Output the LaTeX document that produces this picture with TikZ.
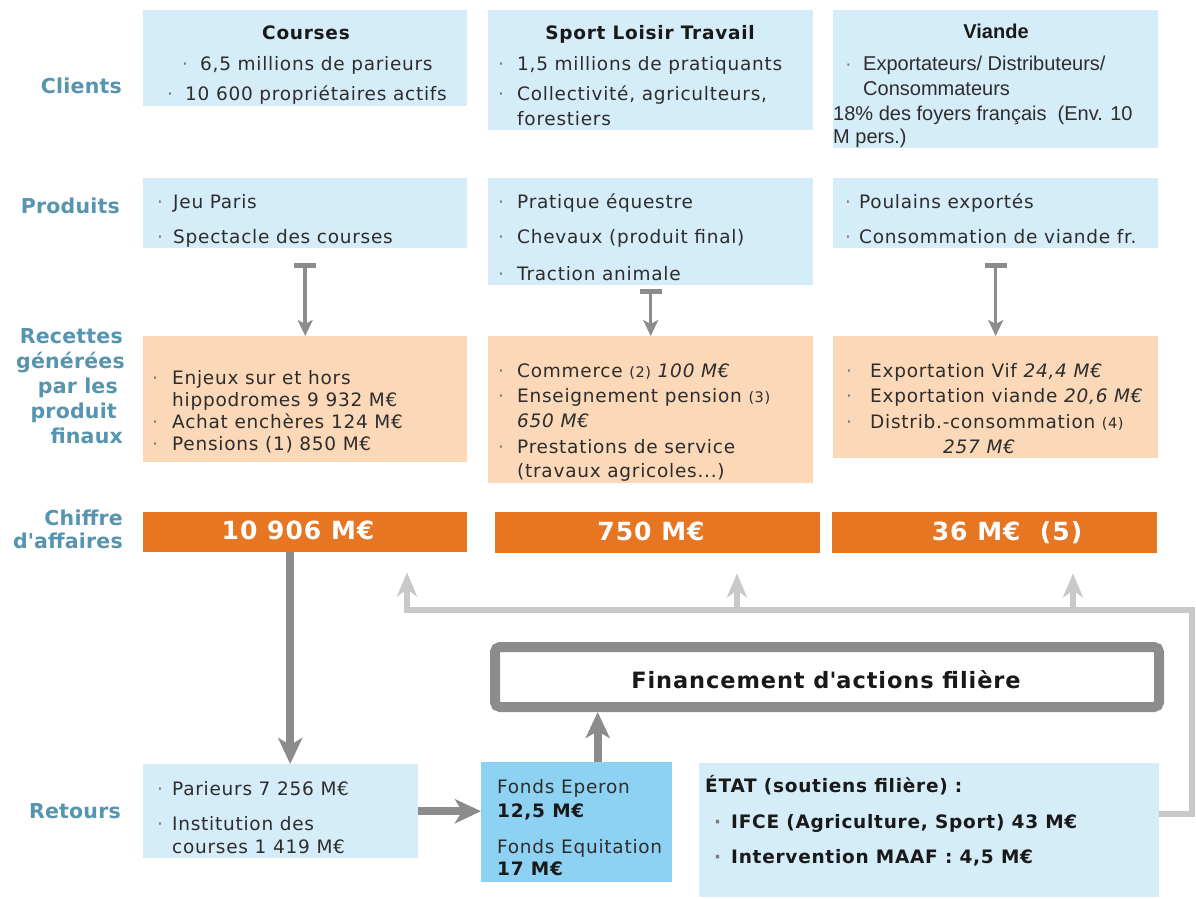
\documentclass[tikz,border=0pt]{standalone}
\usepackage{fontspec}
\setmainfont{DejaVu Sans}[LetterSpace=4]
\newfontfamily\labfont{DejaVu Sans}[LetterSpace=1]
\newfontfamily\arl{Liberation Sans}
\usetikzlibrary{arrows.meta}
\definecolor{lblue}{RGB}{213,236,249}
\definecolor{fondc}{RGB}{142,210,243}
\definecolor{peach}{RGB}{251,216,184}
\definecolor{orng}{RGB}{231,118,34}
\definecolor{labc}{RGB}{86,148,176}
\definecolor{txtc}{RGB}{45,45,45}
\definecolor{ttlc}{RGB}{25,25,25}
\definecolor{dgray}{RGB}{140,140,140}
\definecolor{lgray}{RGB}{200,200,200}
\definecolor{bulc}{RGB}{120,120,120}
\newcommand\mybul[1]{\makebox[#1pt][l]{\textcolor{bulc}{·}}}
\newcommand\smallnum{\fontsize{14.5}{16}\selectfont}
\newcommand\apos{\textquotesingle}
\tikzset{
  lab/.style={font=\labfont\fontsize{20.5}{22}\selectfont\bfseries, text=labc, anchor=base east, inner sep=0},
  tx/.style={font=\fontsize{18.5}{22}\selectfont, text=txtc, anchor=base west, inner sep=0},
  btx/.style={tx, font=\fontsize{18.5}{22}\selectfont\bfseries, text=ttlc},
  ttl/.style={font=\fontsize{18.5}{22}\selectfont\bfseries, text=ttlc, anchor=base, inner sep=0},
  artx/.style={font=\arl\fontsize{20}{24}\selectfont, text=txtc, anchor=base west, inner sep=0},
  arttl/.style={font=\arl\fontsize{20}{24}\selectfont\bfseries, text=ttlc, anchor=base, inner sep=0},
  caf/.style={font=\fontsize{25}{28}\selectfont\bfseries, text=white, anchor=base, inner sep=0},
  box/.style={draw=none, inner sep=0, anchor=north west},
  bluebox/.style={box, fill=lblue},
  fondbox/.style={box, fill=fondc},
  peachbox/.style={box, fill=peach},
  orbox/.style={box, fill=orng},
  darr/.style={draw=dgray, line width=8pt, -{Stealth[length=26pt,width=24pt,inset=7pt]}},
  lgline/.style={draw=lgray, line width=6pt, -{Stealth[length=24pt,width=20pt,inset=7pt]}},
  tee/.style={draw=dgray, line width=3.5pt, {Bar[width=22pt,line width=5pt]}-{Stealth[length=16pt,width=15pt,inset=4pt]}},
}
\begin{document}
\begin{tikzpicture}[x=1pt,y=-1pt]
\fill[white] (0,0) rectangle (1196,898);
\useasboundingbox (0,0) rectangle (1196,898);

% ---- boxes ----
\node[bluebox, minimum width=324pt, minimum height=96pt] (c1) at (143,10) {};
\node[bluebox, minimum width=325pt, minimum height=120pt] (c2) at (488,10) {};
\node[bluebox, minimum width=325pt, minimum height=138pt] (c3) at (833,10) {};
\node[bluebox, minimum width=324pt, minimum height=70pt] (p1) at (143,178) {};
\node[bluebox, minimum width=325pt, minimum height=107pt] (p2) at (488,178) {};
\node[bluebox, minimum width=325pt, minimum height=70pt] (p3) at (833,178) {};
\node[peachbox, minimum width=324pt, minimum height=126pt] (r1) at (143,336) {};
\node[peachbox, minimum width=325pt, minimum height=147pt] (r2) at (488,336) {};
\node[peachbox, minimum width=325pt, minimum height=122pt] (r3) at (833,336) {};
\node[orbox, minimum width=324pt, minimum height=40pt] (ch1) at (143,512) {};
\node[orbox, minimum width=325pt, minimum height=41pt] (ch2) at (495,512) {};
\node[orbox, minimum width=325pt, minimum height=41pt] (ch3) at (832,512) {};
\node[bluebox, minimum width=275pt, minimum height=94pt] (rt) at (143,764) {};
\node[fondbox, minimum width=191pt, minimum height=120pt] (fd) at (481,762) {};
\node[bluebox, minimum width=460pt, minimum height=134pt] (etat) at (699,763) {};
\node[draw=dgray, line width=10pt, fill=white, rounded corners=5pt, inner sep=0,
      minimum width=664pt, minimum height=60pt] (fin) at (827,677) {};

% ---- left labels ----
\node[lab] (lClients) at (122,93) {Clients};
\node[lab] (lProduits) at (120,213) {Produits};
\node[lab] (lRec1) at (123,343) {Recettes};
\node[lab] (lRec2) at (125,368) {générées};
\node[lab] (lRec3) at (118,393) {par les};
\node[lab] (lRec4) at (117,418) {produit};
\node[lab] (lRec5) at (123,443) {finaux};
\node[lab] (lCA1) at (123,525) {Chiffre};
\node[lab] (lCA2) at (123,548) {d\apos affaires};
\node[lab] (lRet) at (121,818) {Retours};

% ---- Clients ----
\node[ttl] (c1t) at (306,39) {Courses};
\node[tx] (c1a) at (182,70) {\mybul{18}6,5 millions de parieurs};
\node[tx] (c1b) at (167,100) {\mybul{18}10 600 propriétaires actifs};
\node[ttl] (c2t) at (650,39) {Sport Loisir Travail};
\node[tx] (c2a) at (498,70) {\mybul{19}1,5 millions de pratiquants};
\node[tx] (c2b) at (498,100) {\mybul{19}Collectivité, agriculteurs,};
\node[tx] (c2c) at (517,125) {forestiers};
\node[arttl] (c3t) at (996,38) {Viande};
\node[artx] (c3a) at (845,70) {\mybul{18}Exportateurs/ Distributeurs/};
\node[artx] (c3b) at (863,95) {Consommateurs};
\node[artx] (c3c) at (833,120) {18\% des foyers français\ \ (Env. 10};
\node[artx] (c3d) at (833,143) {M pers.)};

% ---- Produits ----
\node[tx] (p1a) at (157,208) {\mybul{16}Jeu Paris};
\node[tx] (p1b) at (157,243) {\mybul{16}Spectacle des courses};
\node[tx] (p2a) at (498,208) {\mybul{19}Pratique équestre};
\node[tx] (p2b) at (498,243) {\mybul{19}Chevaux (produit final)};
\node[tx] (p2c) at (498,280) {\mybul{19}Traction animale};
\node[tx] (p3a) at (845,208) {\mybul{14}Poulains exportés};
\node[tx] (p3b) at (845,243) {\mybul{14}Consommation de viande fr.};

% ---- Recettes ----
\node[tx] (r1a) at (152,384) {\mybul{20}Enjeux sur et hors};
\node[tx] (r1b) at (172,406) {hippodromes 9 932 M€};
\node[tx] (r1c) at (152,428) {\mybul{20}Achat enchères 124 M€};
\node[tx] (r1d) at (152,450) {\mybul{20}Pensions (1) 850 M€};
\node[tx] (r2a) at (498,377) {\mybul{19}Commerce {\smallnum(2)} \textit{100 M€}};
\node[tx] (r2b) at (498,402) {\mybul{19}Enseignement pension {\smallnum(3)}};
\node[tx] (r2c) at (517,427) {\textit{650 M€}};
\node[tx] (r2d) at (498,453) {\mybul{19}Prestations de service};
\node[tx] (r2e) at (517,477) {(travaux agricoles...)};
\node[tx] (r3a) at (846,377) {\mybul{24}Exportation Vif \textit{24,4 M€}};
\node[tx] (r3b) at (846,402) {\mybul{24}Exportation viande \textit{20,6 M€}};
\node[tx] (r3c) at (846,428) {\mybul{24}Distrib.-consommation {\smallnum(4)}};
\node[tx] (r3d) at (943,453) {\textit{257 M€}};

% ---- Chiffre d'affaires ----
\node[caf] (ch1t) at (298,539) {10 906 M€};
\node[caf] (ch2t) at (651,540) {750 M€};
\node[caf] (ch3t) at (1007,540) {36 M€\ \ (5)};

% ---- Retours ----
\node[tx] (rta) at (157,795) {\mybul{15}Parieurs 7 256 M€};
\node[tx] (rtb) at (157,830) {\mybul{15}Institution des};
\node[tx] (rtc) at (172,853) {courses 1 419 M€};
\node[tx] (fda) at (497,793) {Fonds Eperon};
\node[btx] (fdb) at (497,817) {12,5 M€};
\node[tx] (fdc) at (497,853) {Fonds Equitation};
\node[btx] (fdd) at (497,875) {17 M€};
\node[btx] (eta) at (705,792) {ÉTAT (soutiens filière) :};
\node[btx] (etb) at (714,828) {\mybul{17}IFCE (Agriculture, Sport) 43 M€};
\node[btx] (etc) at (714,863) {\mybul{17}Intervention MAAF : 4,5 M€};
\node[font=\fontsize{22.5}{26}\selectfont\bfseries, text=ttlc, anchor=base, inner sep=0] (fint) at (826,688) {Financement d\apos actions filière};

% ---- connectors ----
\draw[tee] ([yshift=-15pt]p1.south) -- (r1.north);
\draw[tee] ([yshift=-4pt]p2.south) -- (r2.north);
\draw[tee] ([yshift=-15pt]p3.south) -- (r3.north);

\draw[darr] ([xshift=-15pt]ch1.south) -- ([xshift=-15pt]ch1.south |- rt.north);
\draw[darr] (rt.east) -- (rt.east -| fd.west);
\draw[darr] ([xshift=21pt]fd.north) -- ([xshift=21pt]fd.north |- fin.south);

\coordinate (lgR) at (1192,610);
\coordinate (lgL) at (407,610);
\coordinate (lgM) at (737,610);
\coordinate (lgN) at (1073,610);
\draw[lgline] ([yshift=16pt]etat.east) -| (lgR) -- (lgL) -- ([yshift=-20pt]ch1.south -| lgL);
\draw[lgline] (lgM) -- ([yshift=-20pt]ch2.south -| lgM);
\draw[lgline] (lgN) -- ([yshift=-20pt]ch3.south -| lgN);
\end{tikzpicture}
\end{document}
